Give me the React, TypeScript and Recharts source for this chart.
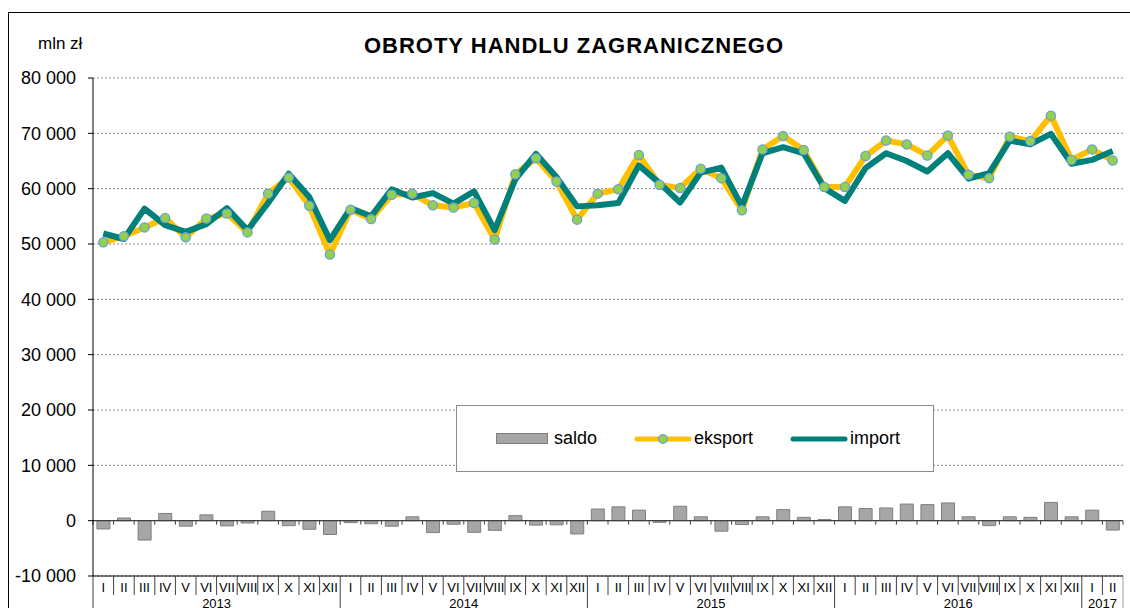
import {
  Bar,
  CartesianGrid,
  ComposedChart,
  Legend,
  Line,
  ReferenceLine,
  XAxis,
  YAxis,
} from "recharts";

const czcionka = "'Liberation Sans', Arial, sans-serif";

const miesiace = ["I", "II", "III", "IV", "V", "VI", "VII", "VIII", "IX", "X", "XI", "XII"];
const lata = ["2013", "2014", "2015", "2016", "2017"];
const miesiaceOstatniegoRoku = 2;

// mln zł
const eksport = [
  50300, 51400, 53000, 54700, 51200, 54600, 55500, 52100, 59100, 62000, 56900, 48100,
  56200, 54500, 58900, 59100, 57000, 56600, 57400, 50800, 62600, 65500, 61300, 54400,
  59100, 59900, 66100, 60700, 60100, 63600, 61900, 56100, 67100, 69500, 67000, 60300,
  60300, 65900, 68700, 68000, 66000, 69600, 62500, 61900, 69400, 68600, 73200, 65200,
  67100, 65100,
];
const importy = [
  51900, 50900, 56400, 53400, 52200, 53600, 56500, 52500, 57400, 62700, 58500, 50700,
  56500, 55000, 59900, 58400, 59200, 57300, 59500, 52500, 61700, 66300, 62100, 56800,
  57000, 57400, 64200, 61000, 57500, 62900, 63800, 56800, 66400, 67500, 66400, 60100,
  57800, 63700, 66400, 65000, 63100, 66400, 61800, 62800, 68700, 68000, 69900, 64500,
  65200, 66800,
];
const saldo = [
  -1500, 480, -3500, 1300, -1000, 1050, -950, -420, 1700, -900, -1550, -2500,
  -350, -550, -1000, 700, -2150, -650, -2100, -1750, 900, -800, -750, -2400,
  2100, 2500, 1900, -300, 2600, 700, -1900, -700, 700, 2000, 600, 200,
  2500, 2200, 2300, 3000, 2900, 3200, 700, -900, 700, 600, 3300, 700,
  1900, -1700,
];
const tickiY = [-10000, 0, 10000, 20000, 30000, 40000, 50000, 60000, 70000, 80000];

const okresy = lata.flatMap((rok, r) =>
  (r === lata.length - 1 ? miesiace.slice(0, miesiaceOstatniegoRoku) : miesiace).map((m) => ({ rok, m }))
);

const dane = okresy.map((o, i) => ({
  m: o.m,
  rok: o.rok,
  saldo: saldo[i],
  eksport: eksport[i],
  import: importy[i],
}));

// indeks miesiąca, pod którym (po prawej krawędzi) stoi etykieta roku
const etykietaRoku: Record<number, string> = {};
lata.forEach((rok) => {
  const idx = okresy.map((o, i) => (o.rok === rok ? i : -1)).filter((i) => i >= 0);
  etykietaRoku[idx[idx.length / 2 - 1]] = rok;
});

const serie = [
  { nazwa: "saldo", typ: "slupek" },
  { nazwa: "eksport", typ: "linia-kropka", kolor: "#FFC000" },
  { nazwa: "import", typ: "linia", kolor: "#00807A" },
];

const fmt = (v: number) => {
  const s = Math.abs(v).toString().replace(/\B(?=(\d{3})+(?!\d))/g, " ");
  return (v < 0 ? "-" : "") + s;
};

function MiesiacTick(props: any) {
  const { x, y, payload, width } = props;
  const i = payload.index;
  const half = payload.offset || width / okresy.length / 2;
  const poczatek = okresy[i].m === "I";
  const ostatni = i === okresy.length - 1;
  return (
    <g>
      <line x1={x - half} x2={x - half} y1={y} y2={poczatek ? y + 70 : y + 19} stroke="#404040" />
      {ostatni && <line x1={x + half} x2={x + half} y1={y} y2={y + 70} stroke="#A0A0A0" />}
      <text x={x} y={y + 15.5} textAnchor="middle" fontSize={13} fill="#000" fontFamily={czcionka}>
        {payload.value}
      </text>
      {etykietaRoku[i] && (
        <text x={x + half} y={y + 31.5} textAnchor="middle" fontSize={13} fill="#000" fontFamily={czcionka}>
          {etykietaRoku[i]}
        </text>
      )}
    </g>
  );
}

function LiniaZera(props: any) {
  const { x1, y1, x2, y2 } = props;
  const n = okresy.length;
  const kreski = Array.from({ length: n + 1 }, (_, k) => x1 + ((x2 - x1) * k) / n);
  return (
    <g>
      <line x1={x1} y1={y1} x2={x2} y2={y2} stroke="#404040" strokeWidth={1.2} />
      {kreski.map((kx, k) => (
        <line key={k} x1={kx} x2={kx} y1={y1} y2={y1 + 4} stroke="#404040" />
      ))}
    </g>
  );
}

function Legenda() {
  return (
    <div
      style={{
        boxSizing: "border-box",
        width: "100%",
        height: "100%",
        border: "1.5px solid #8C8C8C",
        background: "#fff",
        display: "flex",
        alignItems: "center",
        paddingLeft: 39,
        fontFamily: czcionka,
        fontSize: 18,
        color: "#000",
      }}
    >
      {serie.map((s) => (
        <div key={s.nazwa} style={{ display: "flex", alignItems: "center", marginRight: 37 }}>
          {s.typ === "slupek" ? (
            <div
              style={{
                width: 50,
                height: 9,
                background: "#A6A6A6",
                border: "1px solid #7F7F7F",
                marginRight: 6,
              }}
            />
          ) : (
            <svg width={58} height={14} style={{ marginRight: 2 }}>
              <line x1={3} x2={55} y1={7} y2={7} stroke={s.kolor} strokeWidth={5} strokeLinecap="round" />
              {s.typ === "linia-kropka" && (
                <circle cx={29} cy={7} r={4.3} fill="#92D050" stroke="#6A9FD8" strokeWidth={1.3} />
              )}
            </svg>
          )}
          <span>{s.nazwa}</span>
        </div>
      ))}
    </div>
  );
}

export default function App() {
  return (
    <div style={{ position: "relative", width: 1130, height: 608, overflow: "hidden", background: "#fff" }}>
      <style>{`html,body{margin:0;padding:0;overflow:hidden;background:#fff}`}</style>
      <div
        style={{
          position: "absolute",
          left: 8,
          top: 12,
          width: 1200,
          height: 700,
          borderTop: "1.5px solid #000",
          borderLeft: "1.5px solid #000",
        }}
      />
      <div
        style={{
          position: "absolute",
          left: 0,
          top: 35,
          width: 1130,
          textAlign: "center",
          fontFamily: czcionka,
          fontWeight: "bold",
          fontSize: 22,
          lineHeight: "22px",
          letterSpacing: 1,
          color: "#000",
          paddingLeft: 18,
          boxSizing: "border-box",
        }}
      >
        OBROTY HANDLU ZAGRANICZNEGO
      </div>
      <div
        style={{
          position: "absolute",
          left: 38,
          top: 35,
          fontFamily: czcionka,
          fontSize: 17,
          lineHeight: "17px",
          color: "#000",
        }}
      >
        mln zł
      </div>
      <div style={{ position: "absolute", left: 0, top: 0 }}>
        <ComposedChart
          width={1130}
          height={640}
          data={dane}
          margin={{ top: 78, right: 7, left: 0, bottom: 24 }}
          barCategoryGap="19%"
        >
          <CartesianGrid horizontal vertical={false} stroke="#8A8A8A" strokeDasharray="2 2" />
          <XAxis
            dataKey="m"
            interval={0}
            height={40}
            tickSize={0}
            tickMargin={0}
            tickLine={false}
            axisLine={{ stroke: "#000" }}
            tick={<MiesiacTick />}
          />
          <YAxis
            domain={[-10000, 80000]}
            ticks={tickiY}
            tickFormatter={fmt}
            allowDataOverflow
            width={93}
            tickSize={5}
            tickMargin={12}
            axisLine={{ stroke: "#000" }}
            tickLine={{ stroke: "#000" }}
            tick={{ fontSize: 18, fill: "#000", fontFamily: czcionka }}
          />
          <YAxis
            yAxisId="prawa"
            orientation="right"
            domain={[-10000, 80000]}
            width={0}
            tick={false}
            tickLine={false}
            axisLine={{ stroke: "#A0A0A0" }}
          />
          <Bar dataKey="saldo" fill="#A6A6A6" stroke="#7F7F7F" strokeWidth={1} isAnimationActive={false} />
          <ReferenceLine y={0} shape={<LiniaZera />} />
          <Line
            dataKey="eksport"
            stroke="#FFC000"
            strokeWidth={6}
            strokeLinejoin="round"
            dot={{ r: 4.6, fill: "#92D050", stroke: "#6A9FD8", strokeWidth: 1.3 }}
            activeDot={false}
            isAnimationActive={false}
          />
          <Line
            dataKey="import"
            stroke="#00807A"
            strokeWidth={6}
            strokeLinejoin="round"
            dot={false}
            activeDot={false}
            isAnimationActive={false}
          />
          <Legend
            layout="horizontal"
            verticalAlign="middle"
            align="center"
            wrapperStyle={{ position: "absolute", left: 456, top: 405, width: 478, height: 67 }}
            content={() => <Legenda />}
          />
        </ComposedChart>
      </div>
    </div>
  );
}
